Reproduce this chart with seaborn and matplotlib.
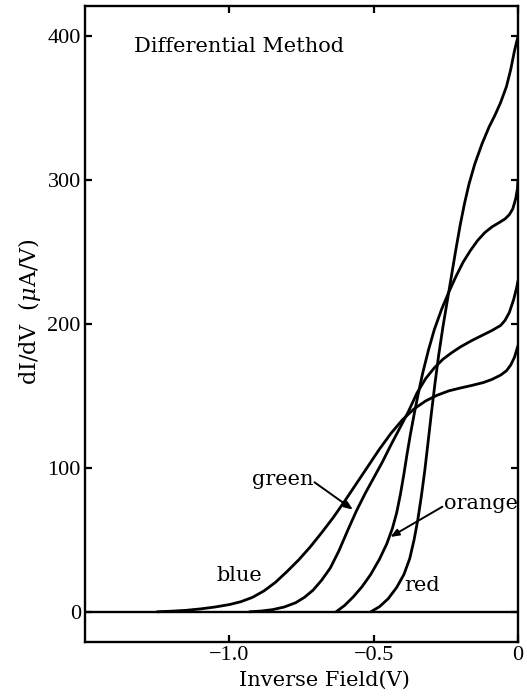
import matplotlib
matplotlib.use("Agg")
import matplotlib.pyplot as plt
import seaborn as sns
import pandas as pd

# ---- data ----
blue_x = [-1.25, -1.20, -1.15, -1.10, -1.05, -1.00, -0.96, -0.92, -0.88, -0.84, -0.80,
          -0.76, -0.72, -0.68, -0.64, -0.60, -0.56, -0.52, -0.48, -0.44, -0.40, -0.36,
          -0.32, -0.28, -0.24, -0.20, -0.16, -0.12, -0.09, -0.06, -0.04, -0.025, -0.012, 0.0]
blue_y = [0, 0.4, 1, 2, 3.3, 5, 7, 10, 14.5, 20.5, 28,
          36, 45, 55, 65.5, 77, 89, 101, 113, 124, 133.5, 141,
          146.5, 150.5, 153.5, 155.5, 157.3, 159.3, 161.5, 164.5, 167.5, 171.5, 177, 185]

green_x = [-0.93, -0.89, -0.85, -0.81, -0.77, -0.74, -0.71, -0.68, -0.65, -0.62, -0.59,
           -0.56, -0.53, -0.50, -0.47, -0.44, -0.41, -0.38, -0.35, -0.32, -0.29, -0.26,
           -0.23, -0.20, -0.16, -0.12, -0.09, -0.06, -0.045, -0.03, -0.015, -0.005, 0.0]
green_y = [0, 0.5, 1.5, 3.3, 6.3, 10, 15, 22, 30.5, 42.5, 56.5,
           70, 82, 93, 104, 116, 127.5, 139, 152, 162, 169.5, 175.5,
           180, 184, 188.5, 192.5, 195.5, 199, 202.5, 208, 217, 225, 230]

orange_x = [-0.63, -0.60, -0.57, -0.54, -0.51, -0.48, -0.455, -0.435, -0.42, -0.407,
            -0.395, -0.384, -0.373, -0.36, -0.345, -0.33, -0.31, -0.29, -0.265, -0.24,
            -0.215, -0.19, -0.165, -0.14, -0.115, -0.09, -0.065, -0.045, -0.03, -0.018,
            -0.008, -0.002, 0.0]
orange_y = [0, 4.5, 10.5, 17.5, 26, 36.5, 47, 58, 69, 82,
            96, 110, 123, 137, 152, 166, 182, 196, 210, 222,
            233, 243, 251, 258, 263.5, 267.5, 270.5, 273, 276, 280,
            287, 294, 300]

red_x = [-0.51, -0.48, -0.45, -0.42, -0.395, -0.375, -0.36, -0.347, -0.335, -0.323,
         -0.312, -0.30, -0.288, -0.275, -0.26, -0.245, -0.23, -0.215, -0.20, -0.185,
         -0.17, -0.15, -0.125, -0.10, -0.08, -0.06, -0.04, -0.025, -0.012, 0.0]
red_y = [0, 3.5, 9, 17, 26, 37, 50, 64, 80, 98,
         117, 138, 158, 178, 198, 216, 234, 252, 269, 284,
         297, 311, 325, 337, 345, 354, 365, 377, 390, 400]

series_names = ["blue", "green", "orange", "red"]
x_ticks = [-1.0, -0.5, 0.0]
x_tick_labels = ["\u22121.0", "\u22120.5", "0"]
y_ticks = [0, 100, 200, 300, 400]
y_tick_labels = ["0", "100", "200", "300", "400"]

frames = []
for name, xs, ys in zip(series_names, [blue_x, green_x, orange_x, red_x],
                        [blue_y, green_y, orange_y, red_y]):
    frames.append(pd.DataFrame({"x": xs, "y": ys, "curve": name}))
df = pd.concat(frames, ignore_index=True)

sns.set_style("ticks")
plt.rcParams["font.family"] = ["Liberation Serif", "DejaVu Serif"]
plt.rcParams["mathtext.fontset"] = "dejavuserif"

fig = plt.figure(figsize=(5.27, 6.96), dpi=100)
ax = fig.add_axes([0.1613, 0.0776, 0.8216, 0.9138])

sns.lineplot(data=df, x="x", y="y", units="curve", estimator=None, sort=False,
             color="black", linewidth=2.0, ax=ax, legend=False)
ax.axhline(0, color="black", linewidth=1.7)

ax.set_xlim(-1.5, 0.0)
ax.set_ylim(-21, 421)
ax.set_xticks(x_ticks)
ax.set_xticklabels(x_tick_labels)
ax.set_yticks(y_ticks)
ax.set_yticklabels(y_tick_labels)
ax.tick_params(direction="in", length=5, width=1.6, top=True, right=True,
               labelsize=16, pad=3, colors="black")
for s in ax.spines.values():
    s.set_linewidth(1.7)
    s.set_color("black")

lab_font = dict(family=["DejaVu Serif"], fontsize=15, color="black")
ax.set_xlabel("Inverse Field(V)", **lab_font)
ax.set_ylabel("dI/dV  ($\\mu$A/V)", family=["DejaVu Serif"], fontsize=16, color="black")
ax.xaxis.set_label_coords(0.554, -0.046)
ax.yaxis.set_label_coords(-0.097, 0.519)

ax.text(-1.33, 393, "Differential Method", va="center", ha="left", **lab_font)
ax.text(-0.965, 25, "blue", va="center", ha="center", **lab_font)
ax.text(-0.333, 18, "red", va="center", ha="center", **lab_font)
ax.text(-0.71, 92, "green", va="center", ha="right", **lab_font)
ax.text(-0.257, 75, "orange", va="center", ha="left", **lab_font)

arrow = dict(arrowstyle="-|>,head_length=0.5,head_width=0.2", color="black",
             linewidth=1.4, shrinkA=0, shrinkB=0)
ax.annotate("", xy=(-0.572, 71), xytext=(-0.705, 90), arrowprops=arrow)
ax.annotate("", xy=(-0.442, 52), xytext=(-0.262, 73), arrowprops=arrow)

fig.savefig("out.png", dpi=100)
